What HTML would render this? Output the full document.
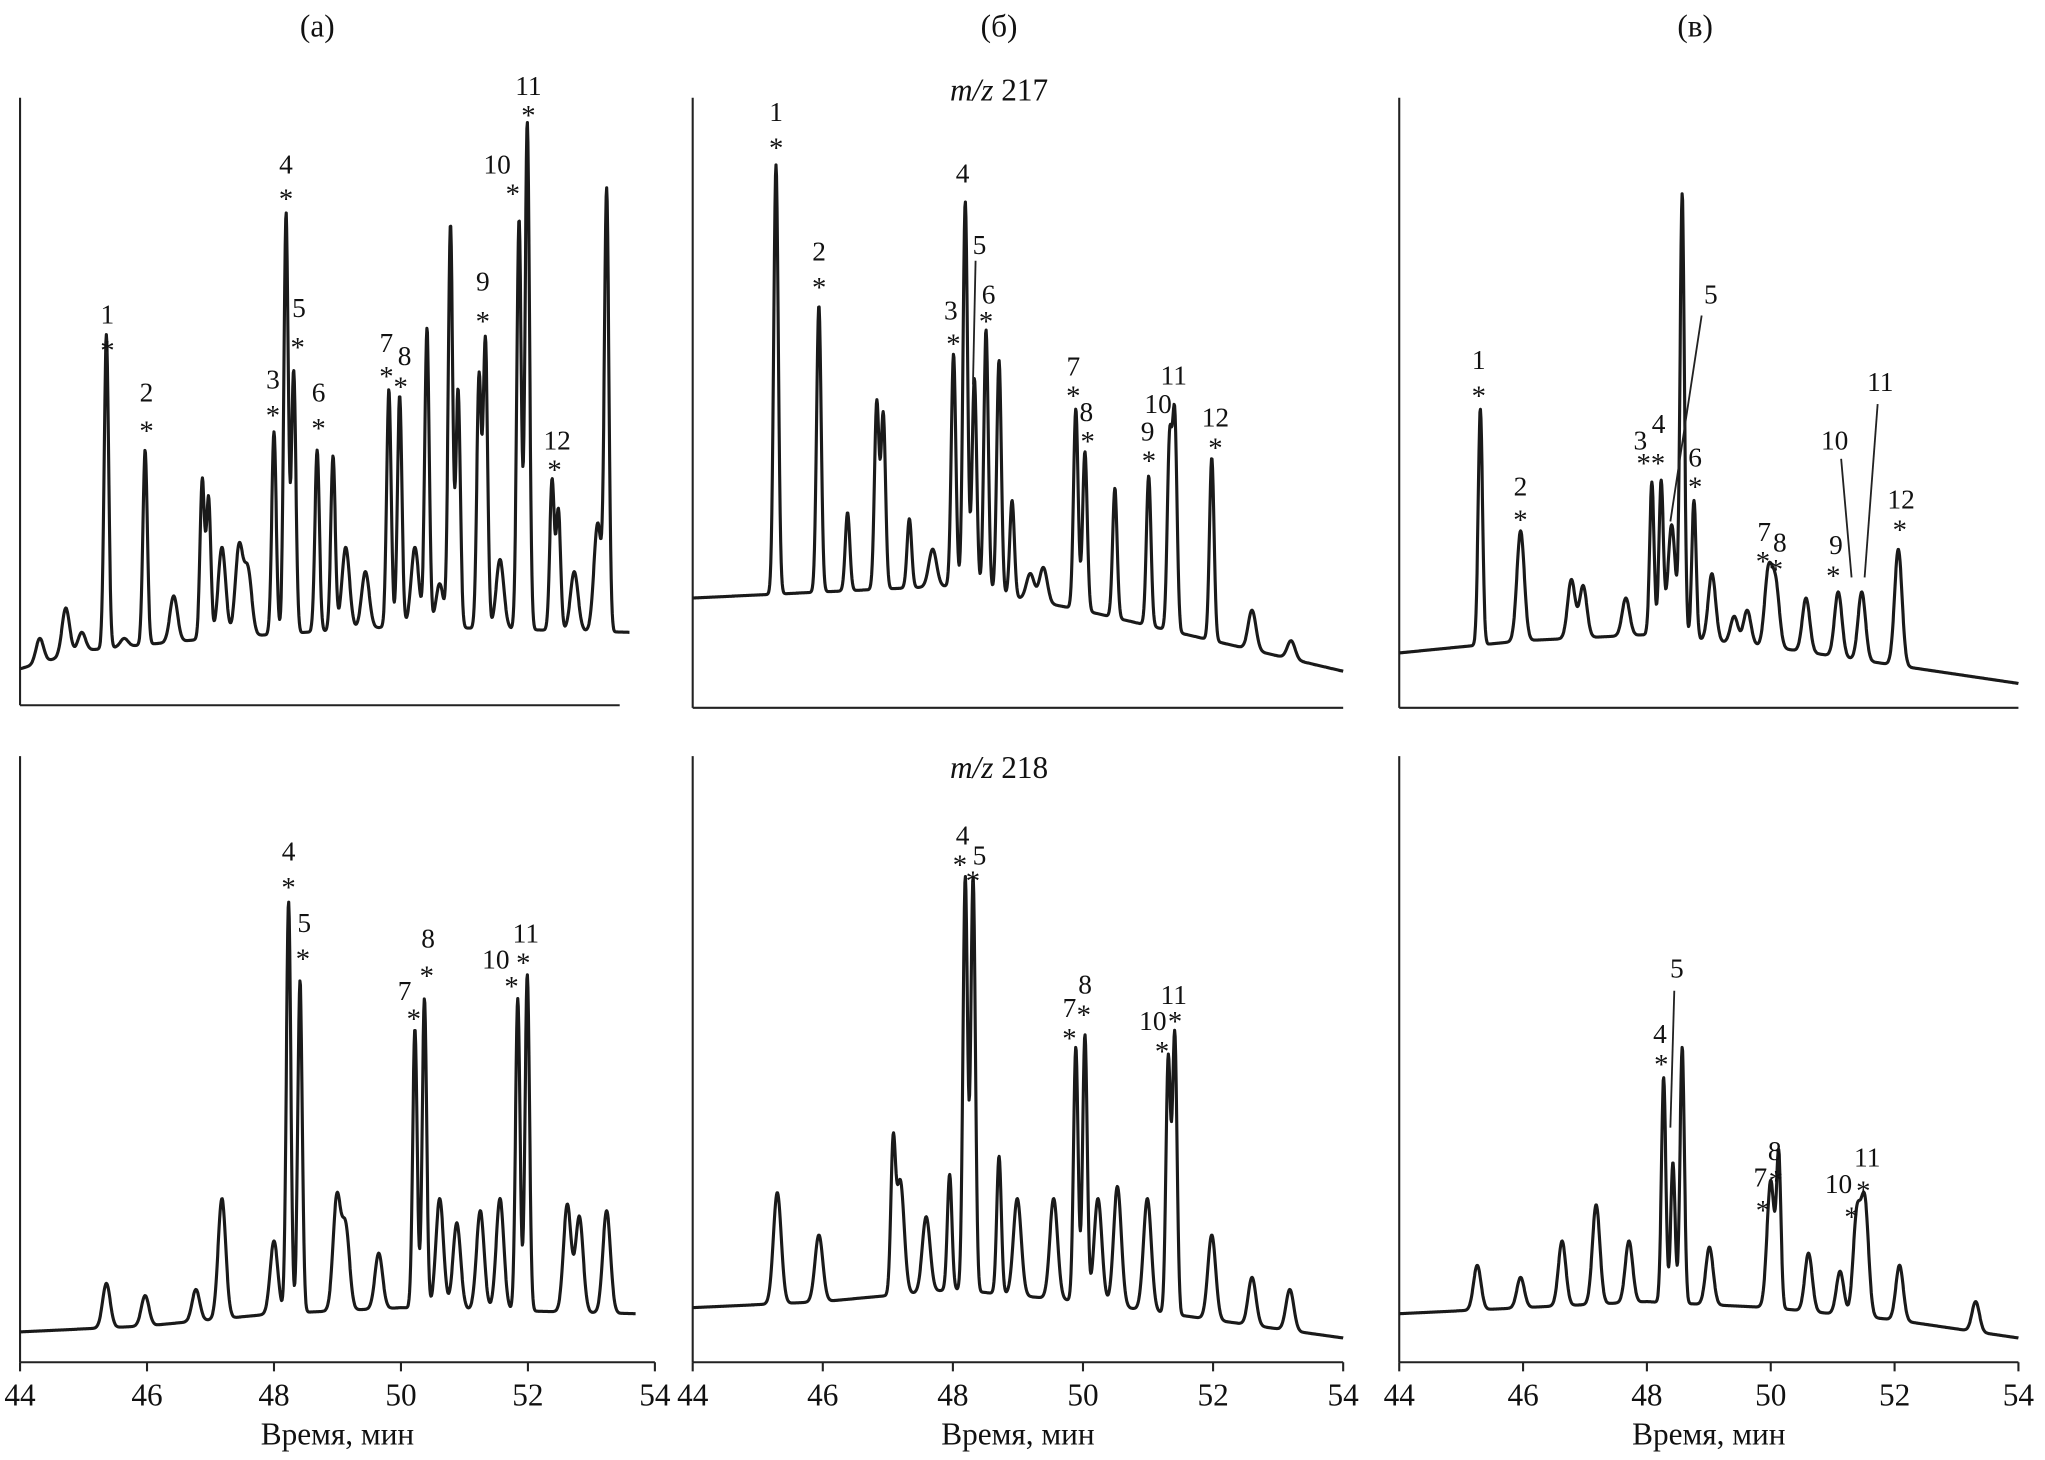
<!DOCTYPE html>
<html><head><meta charset="utf-8">
<style>
html,body{margin:0;padding:0;background:#fff;}
svg{display:block;}
text{font-family:"Liberation Serif",serif;fill:#111;}
</style></head>
<body>
<svg id="fig" width="2045" height="1460" viewBox="0 0 1568 1120" xmlns="http://www.w3.org/2000/svg">
<g id="axes"></g>
<g id="traces"></g>
<g id="labels"></g>
<text x="243" y="28" font-size="24" text-anchor="middle">(а)</text>
<text x="766" y="28" font-size="24" text-anchor="middle">(б)</text>
<text x="1300" y="28" font-size="24" text-anchor="middle">(в)</text>
<text x="766" y="77" font-size="24" text-anchor="middle"><tspan font-style="italic">m/z</tspan> 217</text>
<text x="766" y="597" font-size="24" text-anchor="middle"><tspan font-style="italic">m/z</tspan> 218</text>
</svg>
<script>
// x-axis tick labels (minutes)
const tickLabels = [44, 46, 48, 50, 52, 54];

// Panel A (top, m/z 217)
const aTopTimes   = [45.36,45.97,46.87,46.97,47.45,48.0,48.19,48.31,48.68,48.93,49.81,49.98,50.41,50.78,50.9,51.23,51.33,51.86,51.99,52.38,52.48,53.1,53.24,44.31,44.72,44.97,45.64,46.42,47.18,47.59,49.13,49.44,50.22,50.61,51.56,52.73];
const aTopHeights = [61,42,37,34,26,45,81,55,42,41,52,51,62,79,52,54,60,80,96,37,32,30,84,11,16,12,11,18,26,22,26,22,26,20,24,22];
const aTopBase = [[44,6],[45,9],[47,11],[50,13],[53.6,12]];
// Panel B (top)
const bTopTimes   = [45.28,45.94,46.38,46.83,46.93,47.33,47.69,48.01,48.19,48.33,48.51,48.71,48.91,49.19,49.39,49.89,50.03,50.49,51.01,51.33,51.41,51.98,52.6,53.2];
const bTopHeights = [89,66,32,50,48,31,26,58,83,54,62,57,34,22,23,49,42,36,38,43,47,41,16,11];
const bTopBase = [[44,18],[46,19],[48,20],[50,16],[52,11],[54,6]];
// Panel C (top)
const cTopTimes   = [45.31,45.96,46.78,46.97,47.66,48.08,48.23,48.4,48.57,48.76,49.05,49.41,49.62,49.96,50.08,50.57,51.09,51.47,52.06];
const cTopHeights = [49,29,21,20,18,37,37,30,84,34,22,15,16,22,20,18,19,19,26];
const cTopBase = [[44,9],[46,11],[48,12],[50,10],[52,7],[54,4]];
// Panel A (bottom, m/z 218)
const aBotTimes   = [45.36,45.97,46.77,47.18,48.0,48.23,48.41,48.99,49.13,49.65,50.22,50.37,50.61,50.88,51.25,51.56,51.84,51.99,52.62,52.81,53.24];
const aBotHeights = [13,11,12,27,20,76,63,27,22,18,55,60,27,23,25,27,60,64,26,24,25];
const aBotBase = [[44,5],[46,6],[48,8],[50,9],[53.7,8]];
// Panel B (bottom)
const bBotTimes   = [45.3,45.94,47.08,47.19,47.59,47.95,48.19,48.31,48.71,48.99,49.55,49.89,50.03,50.23,50.53,50.99,51.31,51.41,51.98,52.6,53.18];
const bBotHeights = [28,21,34,30,24,31,80,80,34,27,27,52,54,27,29,27,50,54,21,14,12];
const bBotBase = [[44,9],[46,10],[48,12],[50,10],[52,7],[54,4]];
// Panel C (bottom)
const cBotTimes   = [45.26,45.96,46.63,47.18,47.71,48.27,48.42,48.57,49.01,50.0,50.13,50.61,51.12,51.39,51.52,52.08,53.31];
const cBotHeights = [16,14,20,26,20,47,33,52,19,30,33,18,15,24,26,16,10];
const cBotBase = [[44,8],[46,9],[48,10],[50,9],[52,7],[54,4]];

const NS = "http://www.w3.org/2000/svg";
const axesG = document.getElementById('axes');
const traceG = document.getElementById('traces');
const labelG = document.getElementById('labels');

function mk(tag, attrs, parent){
  const el = document.createElementNS(NS, tag);
  for (const k in attrs) el.setAttribute(k, attrs[k]);
  parent.appendChild(el);
  return el;
}

const panels = [
  {id:'a-top', x0:15,   k:48.7, yb:541,  H:466, top:75,  xEnd:475,  tEnd:53.6, times:aTopTimes, heights:aTopHeights, base:aTopBase, ticks:false},
  {id:'b-top', x0:531,  k:49.9, yb:543,  H:468, top:75,  xEnd:1030, tEnd:54,   times:bTopTimes, heights:bTopHeights, base:bTopBase, ticks:false},
  {id:'c-top', x0:1073, k:47.5, yb:543,  H:468, top:75,  xEnd:1548, tEnd:54,   times:cTopTimes, heights:cTopHeights, base:cTopBase, ticks:false},
  {id:'a-bottom', x0:15,   k:48.7, yb:1045, H:465, top:580, xEnd:502,  tEnd:53.7, times:aBotTimes, heights:aBotHeights, base:aBotBase, ticks:true},
  {id:'b-bottom', x0:531,  k:49.9, yb:1045, H:465, top:580, xEnd:1030, tEnd:54,   times:bBotTimes, heights:bBotHeights, base:bBotBase, ticks:true},
  {id:'c-bottom', x0:1073, k:47.5, yb:1045, H:465, top:580, xEnd:1548, tEnd:54,   times:cBotTimes, heights:cBotHeights, base:cBotBase, ticks:true}
];

function baseAt(b, t){
  if (t <= b[0][0]) return b[0][1];
  for (let i=1;i<b.length;i++){
    if (t <= b[i][0]) {
      const f=(t-b[i-1][0])/(b[i][0]-b[i-1][0]);
      return b[i-1][1]+f*(b[i][1]-b[i-1][1]);
    }
  }
  return b[b.length-1][1];
}

panels.forEach(p => {
  const xs = t => p.x0 + (t-44)*p.k;
  const ys = h => p.yb - h/100*p.H;
  // axes
  const yax = mk('line',{x1:p.x0,y1:p.top,x2:p.x0,y2:p.yb,stroke:'#222','stroke-width':1.6},axesG);
  
  
  const xax = mk('line',{x1:p.x0,y1:p.yb,x2:p.xEnd,y2:p.yb,stroke:'#222','stroke-width':1.6},axesG);
  
  
  if (p.ticks){
    tickLabels.forEach(v => {
      const tx = xs(v);
      const tk = mk('line',{x1:tx,y1:p.yb,x2:tx,y2:p.yb+7,stroke:'#222','stroke-width':1.6},axesG);
      
      
      const tl = mk('text',{x:tx,y:1078,'font-size':24,'text-anchor':'middle'},axesG);
      tl.textContent = String(v);
      
      
    });
    const xt = mk('text',{x:(p.x0+Math.min(p.xEnd,xs(54)))/2,y:1108,'font-size':24,'text-anchor':'middle'},axesG);
    xt.textContent = 'Время, мин';
    
    
  }
  // trace
  let d = '';
  const step = 0.008;
  for (let t=44; t<=p.tEnd+1e-9; t+=step){
    const b = baseAt(p.base, t);
    let v = b;
    for (let i=0;i<p.times.length;i++){
      const amp = p.heights[i] - baseAt(p.base, p.times[i]);
      const sig = p.heights[i] > 30 ? 0.035 : 0.06;
      const dt = t - p.times[i];
      if (Math.abs(dt) < 6*sig) v += amp*Math.exp(-dt*dt/(2*sig*sig));
    }
    d += (d ? 'L' : 'M') + xs(t).toFixed(1) + ' ' + ys(v).toFixed(1);
  }
  const path = mk('path',{d:d,fill:'none',stroke:'#1a1a1a','stroke-width':2.4,'stroke-linejoin':'round'},traceG);
  
  
});

// peak annotations [text, x, y]
const annotations = [
 ['1',82,248],['*',82,276],['2',112,308],['*',112,338],['4',219,133],['*',219,160],['3',209,298],['*',209,326],
 ['5',229,243],['*',228,274],['6',244,308],['*',244,336],['7',296,270],['8',310,280],['*',296,296],['*',307,304],
 ['9',370,223],['*',370,254],['10',381,133],['*',393,156],['11',405,73],['*',405,96],['12',427,345],['*',425,368],
 ['1',595,93],['*',595,121],['2',628,200],['*',628,228],['4',738,140],['5',751,195],['6',758,233],['*',756,254],
 ['3',729,245],['*',731,271],['7',823,288],['*',823,311],['8',833,323],['*',834,346],['9',880,338],['*',881,361],
 ['10',888,317],['11',900,295],['12',932,327],['*',932,351],
 ['1',1134,283],['*',1134,311],['2',1166,380],['*',1166,406],['3',1258,345],['4',1272,332],['**',1266,363],
 ['5',1312,233],['6',1300,358],['*',1300,381],['7',1353,415],['8',1365,423],['*',1352,438],['*',1362,444],
 ['9',1408,425],['*',1406,449],['10',1407,345],['11',1442,300],['12',1458,390],['*',1457,414],
 ['4',221,660],['*',221,688],['5',233,715],['*',232,743],['8',328,727],['*',327,756],['7',310,767],['*',317,789],
 ['10',380,743],['*',392,764],['11',403,723],['*',401,746],
 ['4',738,648],['5',751,663],['*',736,671],['*',746,683],['8',832,762],['7',820,780],['*',831,786],['*',820,804],
 ['11',900,770],['10',884,790],['*',901,791],['*',891,814],
 ['5',1286,750],['4',1273,800],['*',1274,824],['8',1361,890],['7',1350,910],['*',1362,913],['*',1352,936],
 ['11',1432,895],['10',1410,915],['*',1429,921],['*',1420,941]
];
annotations.forEach((a, i) => {
  const t = mk('text',{x:a[1],y:a[2],'font-size':a[0].indexOf('*')>=0?22:21,'text-anchor':'middle'},labelG);
  t.textContent = a[0];
  
  
});
// leader lines [x1,y1,x2,y2]
const leaders = [[748,200,746,295],[1305,242,1281,400],[1412,352,1420,443],[1440,310,1430,443],[1284,760,1281,865]];
leaders.forEach(l => {
  const ln = mk('line',{x1:l[0],y1:l[1],x2:l[2],y2:l[3],stroke:'#222','stroke-width':1.4},labelG);
  
  
});
</script>
</body></html>
